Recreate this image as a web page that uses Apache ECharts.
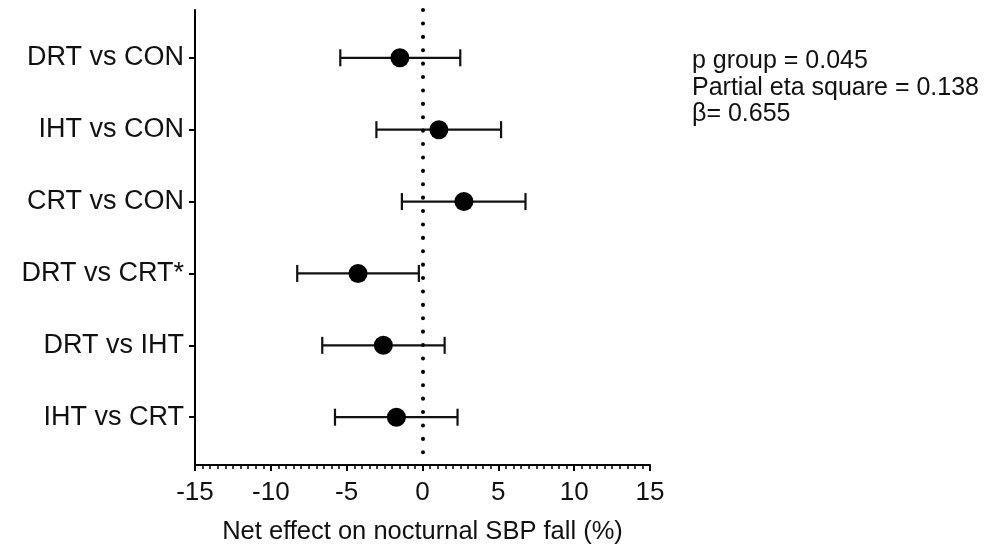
<!DOCTYPE html>
<html>
<head>
<meta charset="utf-8">
<script src="https://cdn.jsdelivr.net/npm/echarts@6/dist/echarts.min.js"></script>
<style>html,body{margin:0;padding:0;background:#fff;}#chart{width:987px;height:545px;}</style>
</head>
<body>
<div id="chart"></div>
<script>
const categories = ['DRT vs CON', 'IHT vs CON', 'CRT vs CON', 'DRT vs CRT*', 'DRT vs IHT', 'IHT vs CRT'];
const estimates = [-1.49, 1.08, 2.73, -4.25, -2.58, -1.72];
const lowerCI = [-5.42, -3.04, -1.36, -8.26, -6.61, -5.77];
const upperCI = [2.49, 5.18, 6.79, -0.24, 1.46, 2.31];
const xTicks = [-15, -10, -5, 0, 5, 10, 15];
const statsText = ['p group = 0.045', 'Partial eta square = 0.138', '\u03b2= 0.655'];

const FONT = 'Liberation Sans, Arial, sans-serif';
const rowIdx = categories.map((c, i) => i);

const chart = echarts.init(document.getElementById('chart'));
chart.setOption({
  animation: false,
  backgroundColor: '#fff',
  grid: { left: 195, right: 337, top: 10, bottom: 80, containLabel: false, outerBoundsMode: 'none' },
  xAxis: {
    type: 'value', min: xTicks[0], max: xTicks[xTicks.length - 1], interval: 5,
    name: 'Net effect on nocturnal SBP fall (%)',
    nameLocation: 'middle', nameGap: 54,
    nameTextStyle: { fontFamily: FONT, fontSize: 25.5, color: '#111' },
    axisLine: { show: true, onZero: false, lineStyle: { color: '#000', width: 2 } },
    axisTick: { show: true, inside: false, length: 6, lineStyle: { color: '#000', width: 2 } },
    minorTick: { show: true, splitNumber: 10, length: 4, lineStyle: { color: '#000', width: 1.5 } },
    axisLabel: { fontFamily: FONT, fontSize: 26, color: '#111', margin: 15 },
    splitLine: { show: false }
  },
  yAxis: {
    type: 'value', inverse: true, min: -0.665, max: 5.665,
    axisLine: { show: true, onZero: false, lineStyle: { color: '#000', width: 2 } },
    axisTick: { show: true, length: 6, customValues: rowIdx, lineStyle: { color: '#000', width: 2 } },
    axisLabel: { fontFamily: FONT, fontSize: 27, color: '#111', margin: 11,
      customValues: rowIdx, formatter: v => categories[Math.round(v)] },
    splitLine: { show: false }
  },
  graphic: [{
    type: 'text', left: 692, top: 48,
    style: { text: statsText.join('\n'), fontFamily: FONT, fontSize: 25, lineHeight: 26.5, fill: '#111' }
  }],
  series: [
    {
      type: 'custom',
      data: rowIdx.map(i => [lowerCI[i], upperCI[i], i]),
      renderItem: function (params, api) {
        const y = api.value(2);
        const p1 = api.coord([api.value(0), y]);
        const p2 = api.coord([api.value(1), y]);
        const h = 8.5;
        const st = { stroke: '#111', lineWidth: 2.2 };
        return { type: 'group', children: [
          { type: 'line', shape: { x1: p1[0], y1: p1[1], x2: p2[0], y2: p2[1] }, style: st },
          { type: 'line', shape: { x1: p1[0], y1: p1[1] - h, x2: p1[0], y2: p1[1] + h }, style: st },
          { type: 'line', shape: { x1: p2[0], y1: p2[1] - h, x2: p2[0], y2: p2[1] + h }, style: st }
        ] };
      },
      z: 2
    },
    {
      type: 'scatter',
      data: rowIdx.map(i => [estimates[i], i]),
      symbol: 'circle', symbolSize: 19,
      itemStyle: { color: '#000', opacity: 1 },
      z: 3,
      markLine: {
        silent: true, symbol: 'none', label: { show: false },
        lineStyle: { color: '#000', width: 4, type: [0.1, 13.3], cap: 'round', opacity: 1 },
        data: [{ xAxis: 0 }]
      }
    }
  ]
});
</script>
</body>
</html>
